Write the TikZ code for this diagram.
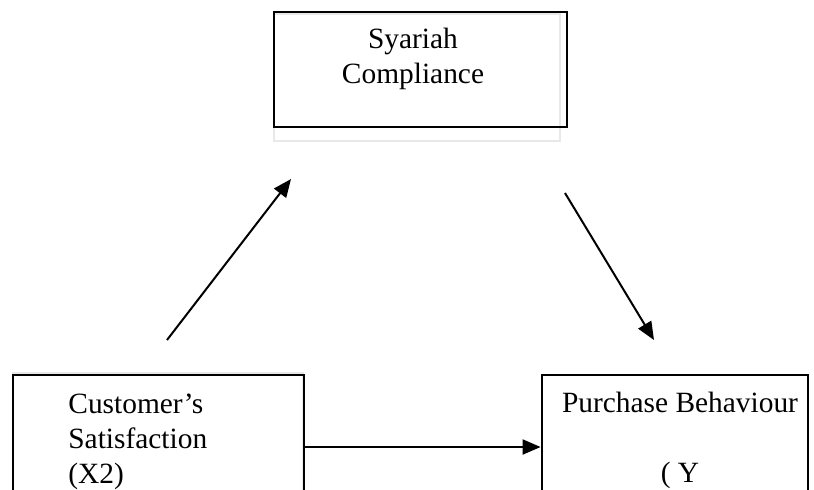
\documentclass[tikz,border=0pt]{standalone}
\usepackage{fontspec}
\setmainfont{Liberation Serif}
\usetikzlibrary{arrows.meta, positioning}
\tikzset{
  var/.style={rectangle, draw=black, line width=1.4pt, inner sep=0pt},
  ghost/.style={draw=black!9, line width=1pt},
  txt/.style={font=\fontsize{14.7}{17.5}\selectfont, inner sep=0pt},
  arrow/.style={-{Triangle[length=9pt,width=7.5pt]}, line width=1pt}
}
\begin{document}
\begin{tikzpicture}[x=0.5pt, y=-0.5pt]
  \clip (0,0) rectangle (814,489);
  \fill[white] (0,0) rectangle (814,489);
  % faint frames behind the boxes
  \draw[ghost] (274,14) rectangle (560,141);
  \draw[ghost] (13,373) rectangle (303,530);
  % boxes
  \node[var, minimum width=146.5pt, minimum height=57.5pt] (sc) at (420.5,69.5) {};
  \node[var, minimum width=145.5pt, minimum height=74pt] (cs) at (158.5,449) {};
  \node[var, minimum width=133pt, minimum height=74pt] (pb) at (675,449) {};
  % texts
  \node[txt, align=center, anchor=base] (sctext) at (413,83) {Syariah\\Compliance};
  \node[txt, align=left, anchor=base west] (cstext) at (68,483) {Customer’s\\Satisfaction\\(X2)};
  \node[txt, align=center, anchor=base] (pbtext) at (680,482) {Purchase Behaviour\\[17.5pt]( Y};
  % paths
  \coordinate (up0) at (167,340);
  \coordinate (up1) at (291,179);
  \coordinate (dn0) at (565,193);
  \coordinate (dn1) at (654,340);
  \draw[arrow] (up0) -- (up1);
  \draw[arrow] (dn0) -- (dn1);
  \draw[arrow] (cs.east |- 0,447) -- (pb.west |- 0,447);
\end{tikzpicture}
\end{document}
